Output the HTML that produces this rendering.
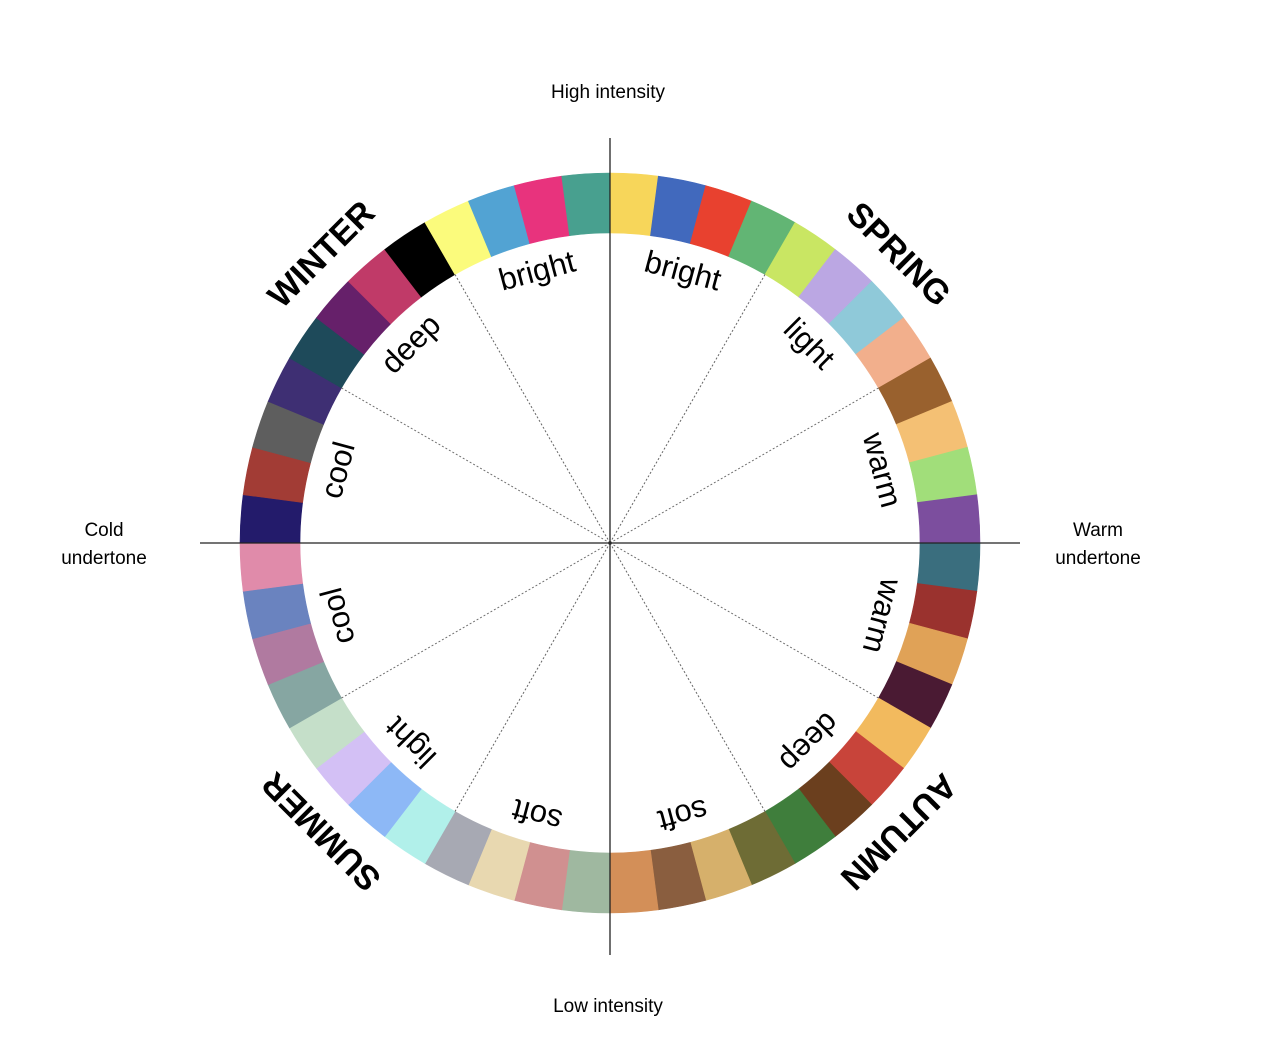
<!DOCTYPE html>
<html><head><meta charset="utf-8"><style>
html,body{margin:0;padding:0;background:#fff;}
svg{display:block;font-family:"Liberation Sans",sans-serif;}
</style></head><body>
<svg id="chart" width="1262" height="1046" viewBox="0 0 1262 1046" xmlns="http://www.w3.org/2000/svg">
<g id="ring"></g>
<g id="spokes"></g>
<g id="words"></g>
<g id="seasons"></g>
<line x1="610" y1="138" x2="610" y2="955" stroke="#222" stroke-width="1.3"/>
<line x1="200" y1="543" x2="1020" y2="543" stroke="#222" stroke-width="1.3"/>
<text x="608" y="98" font-size="19" text-anchor="middle">High intensity</text>
<text x="608" y="1012" font-size="19" text-anchor="middle">Low intensity</text>
<text font-size="19" text-anchor="middle"><tspan x="104" y="536">Cold</tspan><tspan x="104" y="564">undertone</tspan></text>
<text font-size="19" text-anchor="middle"><tspan x="1098" y="536">Warm</tspan><tspan x="1098" y="564">undertone</tspan></text>
</svg>
<script>
const swatchColors = [
 "#F7D65A","#4169BD","#E8412F","#62B574","#C9E663","#BBA7E3","#8FC9D9","#F2AF8C","#99612E","#F4C074","#A1DE7A","#7C4E9E",
 "#3A6E7E","#9A322E","#E0A257","#4A1A33","#F2BA5E","#C8443A","#6B3F1E","#3F7E3C","#6E6C35","#D6B06B","#8A5E3F","#D38F58",
 "#9FB8A0","#D09090","#E8D8B0","#A7A9B3","#B1F0EA","#8DB8F6","#D3C0F5","#C5DFC9","#86A6A2","#B07AA0","#6A83BF","#E08BAA",
 "#231B6B","#A23C35","#5E5E5E","#3E2F73","#1E4A5A","#66206A","#C03A68","#000000","#FBFB7C","#52A3D3","#E8337D","#48A08F"
];
const wordLabels = ["bright","light","warm","warm","deep","soft","soft","light","cool","cool","deep","bright"];
const wordAngles = [15,45,75,105,135,165,195,225,255,285,315,345];
const seasonLabels = ["SPRING","AUTUMN","SUMMER","WINTER"];
const seasonAngles = [45,135,225,315];
const spokeAngles = [30,60,120,150,210,240,300,330];

const NS="http://www.w3.org/2000/svg";
const cx=610, cy=543, rOut=370, rIn=310, rWord=282, rSeason=408;
function pt(r,a){const t=a*Math.PI/180;return [cx+r*Math.sin(t), cy-r*Math.cos(t)];}
const ring=document.getElementById('ring');
const step=360/swatchColors.length;
swatchColors.forEach((c,i)=>{
  const a0=i*step,a1=(i+1)*step;
  const [x0,y0]=pt(rOut,a0),[x1,y1]=pt(rOut,a1),[x2,y2]=pt(rIn,a1),[x3,y3]=pt(rIn,a0);
  const p=document.createElementNS(NS,'path');
  p.setAttribute('d',`M${x0},${y0}A${rOut},${rOut} 0 0 1 ${x1},${y1}L${x2},${y2}A${rIn},${rIn} 0 0 0 ${x3},${y3}Z`);
  p.setAttribute('fill',c);p.setAttribute('stroke',c);p.setAttribute('stroke-width','0.6');
  
  
  ring.appendChild(p);
});
const spokes=document.getElementById('spokes');
spokeAngles.forEach(a=>{
  const [x,y]=pt(rIn,a);
  const l=document.createElementNS(NS,'line');
  l.setAttribute('x1',cx);l.setAttribute('y1',cy);l.setAttribute('x2',x);l.setAttribute('y2',y);
  l.setAttribute('stroke','#666');l.setAttribute('stroke-width','1');l.setAttribute('stroke-dasharray','2 2');
  
  
  spokes.appendChild(l);
});
const words=document.getElementById('words');
wordLabels.forEach((w,i)=>{
  const a=wordAngles[i];const [x,y]=pt(rWord,a);
  const t=document.createElementNS(NS,'text');
  t.setAttribute('x',x);t.setAttribute('y',y);t.setAttribute('font-size','31');
  t.setAttribute('text-anchor','middle');t.setAttribute('dominant-baseline','central');
  t.setAttribute('transform',`rotate(${a} ${x} ${y})`);
  t.textContent=w;
  
  
  words.appendChild(t);
});
const seasons=document.getElementById('seasons');
seasonLabels.forEach((w,i)=>{
  const a=seasonAngles[i];const [x,y]=pt(rSeason,a);
  const t=document.createElementNS(NS,'text');
  t.setAttribute('x',x);t.setAttribute('y',y);t.setAttribute('font-size','34');t.setAttribute('font-weight','bold');
  t.setAttribute('text-anchor','middle');t.setAttribute('dominant-baseline','central');
  t.setAttribute('transform',`rotate(${a} ${x} ${y})`);
  t.textContent=w;
  
  
  seasons.appendChild(t);
});
</script>
</body></html>
